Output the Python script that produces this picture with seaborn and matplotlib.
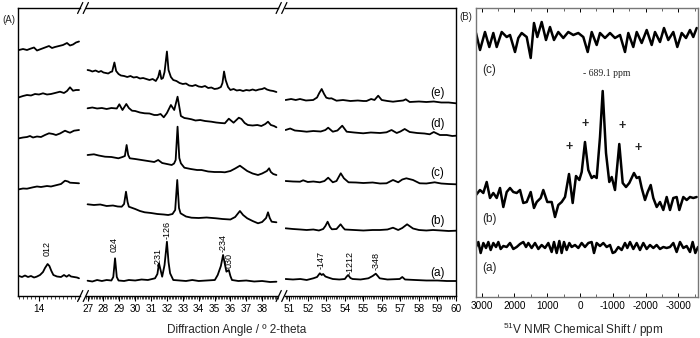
import numpy as np
import matplotlib
matplotlib.use("Agg")
import matplotlib.pyplot as plt
from matplotlib.lines import Line2D
from matplotlib.ticker import MultipleLocator
import seaborn as sns

# ---------------- Panel A data (XRD, intensity in arbitrary units) ----------------
trace_names = ["(a)", "(b)", "(c)", "(d)", "(e)"]

# segment 1 (13-16 deg)
s1_x_e = [13.0, 13.2, 13.4, 13.6, 13.75, 13.9, 14.1, 14.3, 14.5, 14.65, 14.8, 15.0, 15.2, 15.4, 15.55, 15.7, 15.85, 16.0]
s1_y_e = [50, 51, 50, 51.5, 52.5, 49.5, 51, 52.5, 54, 52, 53, 54, 55, 57, 54.5, 55.5, 57.5, 58.5]
s1_x_d = [13.0, 13.2, 13.4, 13.6, 13.8, 14.0, 14.2, 14.4, 14.6, 14.8, 15.05, 15.25, 15.4, 15.55, 15.7, 15.85, 16.0]
s1_y_d = [35.7, 37, 38, 37.5, 39, 38.5, 39.7, 38.5, 39, 40, 41.3, 40, 42, 45.7, 42.3, 43, 43]
s1_x_c = [13.0, 13.2, 13.4, 13.55, 13.7, 13.9, 14.1, 14.3, 14.5, 14.7, 14.85, 15.05, 15.3, 15.45, 15.55, 15.75, 16.0]
s1_y_c = [43.7, 44.5, 45, 46, 44.5, 45.5, 45, 47, 48.7, 48, 47, 48.5, 51.3, 50, 49.3, 51.3, 52]
s1_x_b = [13.0, 13.2, 13.4, 13.7, 13.9, 14.1, 14.4, 14.6, 14.9, 15.1, 15.3, 15.45, 15.55, 15.8, 16.0]
s1_y_b = [40.7, 41.5, 41.3, 42.7, 43.5, 43, 44, 43.5, 45, 46, 49.3, 48.5, 47.3, 47, 46.7]
s1_x_a = [13.0, 13.15, 13.3, 13.45, 13.6, 13.75, 13.88, 14.05, 14.2, 14.3, 14.43, 14.52, 14.62, 14.72,
          14.9, 15.1, 15.25, 15.38, 15.5, 15.6, 15.75, 15.9, 16.0]
s1_y_a = [8, 7, 8.5, 7, 8, 6.5, 7.3, 9, 12, 16, 20, 18, 13, 9, 7.5, 7, 9, 7.3, 9, 7.5, 7, 6.5, 5.7]

# segment 2 (27-39 deg)
s2_x_e = [27.0, 27.15, 27.3, 27.5, 27.7, 27.85, 28.0, 28.15, 28.3, 28.45,
          28.55, 28.69, 28.8, 28.95, 29.1, 29.3, 29.5, 29.7, 29.9, 30.1,
          30.3, 30.5, 30.7, 30.9, 31.1, 31.3, 31.45, 31.55, 31.65, 31.75,
          31.85, 32.0, 32.1, 32.25, 32.4, 32.6, 32.8, 33.0, 33.2, 33.4,
          33.6, 33.8, 34.0, 34.2, 34.4, 34.6, 34.8, 35.0, 35.2, 35.4,
          35.5, 35.6, 35.7, 35.85, 36.0, 36.2, 36.4, 36.6, 36.8, 37.0,
          37.2, 37.4, 37.6, 37.8, 38.0, 38.15, 38.3, 38.5, 38.7, 38.9]
s2_y_e = [30, 29.5, 28.5, 29.5, 28, 29, 27.5, 27, 26.5, 28,
          28.5, 37.5, 29, 26, 24.5, 24, 23, 24, 22.5, 23,
          21.5, 22, 21, 20, 21, 19, 23, 29.5, 21, 22,
          28, 48.5, 30, 23, 20, 19, 17, 16, 16.5, 14.5,
          14, 15, 13.5, 13, 14, 12, 12.5, 11, 11.5, 13,
          17, 28.5, 20, 13, 10, 11, 9.5, 10, 9, 10,
          9.5, 10.5, 9.5, 10.5, 11, 12, 10.5, 9.5, 9, 8]
s2_x_d = [27.0, 27.3, 27.6, 27.9, 28.2, 28.5, 28.84, 29.0, 29.2, 29.44,
          29.6, 29.8, 30.0, 30.3, 30.6, 30.9, 31.2, 31.4, 31.6, 31.8,
          32.0, 32.25, 32.46, 32.67, 32.88, 33.1, 33.3, 33.55, 33.8, 34.1,
          34.4, 34.8, 35.1, 35.4, 35.65, 35.9, 36.2, 36.53, 36.7, 36.9,
          37.1, 37.4, 37.7, 37.95, 38.2, 38.37, 38.55, 38.75, 38.9]
s2_y_d = [24.7, 25.5, 24.5, 25, 24, 25, 24.5, 28.7, 23, 29,
          25, 22.3, 22, 20.5, 19.7, 19.5, 18, 18, 19, 15.7,
          20, 28, 23, 36.3, 17, 15, 14.5, 13.7, 12.5, 13,
          12, 11.3, 10.5, 10, 9.7, 14.3, 10.3, 15.3, 14, 10,
          8, 7.5, 8, 7, 9, 11.3, 8, 7, 5.7]
s2_x_c = [27.0, 27.4, 27.7, 28.1, 28.5, 28.94, 29.2, 29.35, 29.46, 29.56,
          29.66, 30.0, 30.4, 30.8, 31.2, 31.45, 31.7, 32.0, 32.3, 32.45,
          32.55, 32.67, 32.78, 32.88, 33.1, 33.5, 33.9, 34.18, 34.6, 35.0,
          35.4, 35.65, 36.0, 36.3, 36.6, 36.8, 37.06, 37.4, 37.74, 38.0,
          38.3, 38.44, 38.55, 38.7, 38.9]
s2_y_c = [27, 27.7, 26.5, 25.3, 25, 23.7, 25, 26, 37, 27,
          23.7, 23, 22, 21, 20, 22, 19, 18, 17, 18.5,
          22, 55.3, 24, 18.7, 14.3, 13, 12, 12, 10.5, 10,
          10, 9.7, 11, 13.5, 16.3, 14, 11, 8.5, 7, 8.5,
          11, 13.7, 10, 8, 7]
s2_x_b = [27.0, 27.4, 27.8, 28.2, 28.6, 28.9, 29.15, 29.3, 29.42, 29.52,
          29.6, 30.0, 30.3, 30.6, 31.0, 31.4, 31.8, 32.08, 32.35, 32.52,
          32.65, 32.76, 32.86, 33.2, 33.55, 34.0, 34.5, 35.1, 35.5, 36.0,
          36.3, 36.6, 36.8, 37.06, 37.4, 37.74, 38.0, 38.25, 38.37, 38.48,
          38.6, 38.9]
s2_y_b = [25.7, 25, 25.5, 24, 24.5, 23.5, 23.3, 26, 38.3, 28,
          23.3, 21, 19, 17.7, 17, 16, 15.5, 15, 16, 20,
          50, 22, 16.7, 13.5, 12.3, 12, 12.5, 11.7, 11, 10.5,
          13, 19, 15, 11.7, 9, 6.7, 8, 12, 17.7, 12,
          8.3, 7.7]
s2_x_a = [27.0, 27.3, 27.6, 27.9, 28.2, 28.5, 28.62, 28.73, 28.84, 28.95,
          29.3, 29.6, 30.0, 30.4, 30.8, 31.25, 31.4, 31.5, 31.6, 31.7,
          31.85, 32.0, 32.1, 32.2, 32.4, 32.8, 33.2, 33.6, 34.0, 34.5,
          35.02, 35.2, 35.4, 35.54, 35.65, 35.75, 35.9, 36.0, 36.1, 36.5,
          37.0, 37.5, 38.0, 38.5, 38.9]
s2_y_a = [3.3, 2.5, 4, 3, 4, 3.5, 7, 25.7, 7, 3.5,
          3, 4, 3.5, 4.5, 4, 5.7, 10, 20.7, 14, 7.3,
          19, 42.3, 22, 10.7, 4, 3.5, 3, 4, 3, 3.5,
          4, 9, 18, 29, 20, 12.3, 14, 8, 4, 3,
          3.5, 2.5, 3, 2, 2.3]

# segment 3 (51-60 deg)
s3_x_e = [50.8, 51.1, 51.35, 51.58, 51.9, 52.29, 52.5, 52.62, 52.75, 52.88,
          53.0, 53.15, 53.28, 53.55, 53.9, 54.3, 54.7, 55.0, 55.17, 55.42,
          55.6, 55.8, 55.99, 56.3, 56.6, 56.9, 57.15, 57.29, 57.5, 58.0,
          58.4, 58.8, 59.2, 59.6, 60.0]
s3_y_e = [0, 1, 0, 1, -0.5, 0, 2.5, 7, 11, 6,
          2.3, 1.5, 1.7, -0.7, 0, -1, -0.5, -1, -1, 1,
          0, 4.3, 0, -1, -1.7, -1, -0.5, 0.7, -2, -1.5,
          -2, -1.5, -2.5, -2.5, -3.3]
s3_x_d = [50.8, 51.05, 51.3, 51.6, 51.94, 52.3, 52.7, 52.95, 53.1, 53.35,
          53.6, 53.86, 54.1, 54.5, 54.99, 55.4, 55.9, 56.25, 56.52, 56.8,
          57.0, 57.23, 57.5, 57.9, 58.3, 58.58, 58.8, 59.13, 59.5, 59.8, 60.0]
s3_y_d = [3, 4.5, 2.5, 2, 1.3, 2, 1.5, 3, 5.3, 1.3,
          2.5, 7.3, 1.3, 0.5, -0.3, 0.5, 0, 0.7, 3, 0,
          1.5, 4, 1, 0, -0.5, -1.3, 1, -2, -2, -3, -2.7]
s3_x_c = [50.8, 51.2, 51.58, 51.75, 52.0, 52.3, 52.65, 52.9, 53.1, 53.35,
          53.55, 53.78, 53.95, 54.2, 54.6, 55.0, 55.5, 55.9, 56.25, 56.6,
          56.88, 57.1, 57.32, 57.68, 58.04, 58.4, 58.85, 59.2, 59.6, 60.0]
s3_y_c = [1, 0.5, 0.3, 1.7, 0, 0.5, -0.3, 1, 4.3, -0.3,
          1, 8.7, 3.7, -0.3, -0.5, -1, -0.5, -1.5, -1.3, 2,
          -0.3, 2.5, 3.7, 2, -1.3, -1.5, -0.3, -1.5, -2, -2.3]
s3_x_b = [50.8, 51.2, 51.6, 51.94, 52.3, 52.6, 52.83, 52.95, 53.07, 53.2,
          53.3, 53.55, 53.77, 53.9, 54.0, 54.5, 55.0, 55.5, 55.89, 56.3,
          56.6, 56.88, 57.1, 57.36, 57.68, 58.0, 58.4, 58.76, 59.2, 59.6, 60.0]
s3_y_b = [1.7, 1, 0.5, 0, 0.5, -0.5, 1, 4, 8.3, 3,
          0.7, 1, 5.7, 2.5, 0.5, 0, -0.5, 0, 0, 0.5,
          2.3, 0, 2, 5.7, 1.5, 0, -0.5, 0, -0.5, -1, -0.7]
s3_x_a = [50.8, 51.2, 51.6, 51.94, 52.3, 52.5, 52.65, 52.75, 52.83, 52.95,
          53.1, 53.35, 53.7, 54.0, 54.1, 54.18, 54.3, 54.42, 54.85, 55.27,
          55.5, 55.67, 55.8, 55.88, 56.3, 56.96, 57.1, 57.25, 57.8, 58.4,
          59.0, 59.5, 60.0]
s3_y_a = [5, 4.5, 5, 4, 5.7, 7, 10.7, 9, 10, 7.5,
          6.5, 5, 4.5, 5, 7.5, 9, 6, 5, 4.5, 5.7,
          8, 10.3, 7.5, 5.7, 4.5, 5, 7, 4.5, 4, 3.5,
          3.5, 3, 3]

# peak indices (rotated labels): (text, position, height)
hkl_s1 = [("012", 14.43, 48)]
hkl_s2 = [("024", 28.7, 51), ("-231", 31.42, 39), ("-126", 32.0, 66), ("-234", 35.55, 53), ("030", 35.95, 36)]
hkl_s3 = [("-147", 52.7, 36), ("-1212", 54.27, 34), ("-348", 55.67, 35)]

s1_ticks = [14]
s2_ticks = list(range(27, 39))
s3_ticks = list(range(51, 61))

# ---------------- Panel B data (51V NMR) ----------------
nmr_x_c = [3171, 3049, 2897, 2765, 2643, 2540, 2387, 2235, 2134, 1982,
           1881, 1778, 1625, 1503, 1403, 1302, 1168, 1037, 915, 793,
           662, 509, 357, 204, 52, -101, -235, -357, -509, -610,
           -762, -915, -1067, -1220, -1372, -1473, -1625, -1729, -1881, -2034,
           -2186, -2287, -2439, -2561, -2692, -2845, -2967, -3101, -3232, -3354,
           -3454, -3558]
nmr_y_c = [12, -5, 13, -2, 12, -2, 13, 8, 10, -7,
           7, 12, 8, -13, 22, 8, 23, 5, 18, 5,
           13, 7, 13, 10, 12, 8, -7, 13, 0, 12,
           7, 12, 7, 10, -7, 12, -2, 13, 2, 15,
           0, 13, 3, 17, 5, 13, -2, 12, 7, 15,
           8, 17]
nmr_x_b = [3171, 3049, 2948, 2845, 2744, 2643, 2540, 2439, 2338, 2235,
           2134, 2034, 1930, 1829, 1729, 1625, 1503, 1403, 1320, 1198,
           1119, 997, 863, 762, 662, 558, 457, 335, 223, 122,
           21, -52, -152, -253, -357, -427, -509, -610, -692, -793,
           -893, -967, -1067, -1198, -1302, -1403, -1503, -1646, -1729, -1808,
           -1881, -1982, -2064, -2156, -2235, -2339, -2439, -2540, -2643, -2744,
           -2845, -2948, -3028, -3150, -3253, -3354, -3454, -3558]
nmr_y_b = [5, 10, 7, 18, 2, 7, 2, 12, -7, 8,
           12, 8, 7, 10, -3, -2, 8, -8, -2, 2,
           10, -2, -2, -17, -5, -2, 3, 26, -3, 24,
           20, 28, 58, 30, 22, 24, 22, 63, 109, 47,
           18, 23, 10, 56, 17, 13, 17, 27, 22, 23,
           12, 0, 8, 15, 2, -7, -2, -10, 3, -10,
           2, 3, -10, 3, 0, 3, 2, 3]
nmr_x_a = [3171, 3100, 3029, 2947, 2866, 2795, 2724, 2642, 2561, 2490,
           2419, 2337, 2236, 2134, 2033, 1931, 1829, 1728, 1646, 1575,
           1474, 1372, 1270, 1169, 1067, 966, 864, 793, 711, 630,
           559, 488, 407, 325, 254, 152, 51, -51, -152, -254,
           -356, -427, -508, -610, -711, -813, -915, -996, -1067, -1169,
           -1270, -1372, -1443, -1525, -1626, -1728, -1829, -1931, -2033, -2134,
           -2236, -2337, -2439, -2541, -2642, -2744, -2846, -2947, -3049, -3151,
           -3252, -3354, -3435, -3516, -3598]
nmr_y_a = [0, 5, -6, 4, -1, 5, -3, 4, 0, 5,
           -2, 1, 0, 4, -2, 0, 3, 5, 0, 4,
           -1, 4, -2, 2, -1, 4, -5, 5, -6, 6,
           -6, 5, -3, 4, 0, 2, -1, 4, 0, 4,
           5, -6, 4, 1, 4, 0, 2, -6, -5, 0,
           -3, 4, -1, 5, -2, 4, -3, 4, -2, 2,
           -1, 2, -2, 0, -1, 0, 4, -5, 5, -1,
           1, -5, 5, -6, 0]
nmr_ticks = [3000, 2000, 1000, 0, -1000, -2000, -3000]
main_peak_label = "- 689.1 ppm"
sideband_pos = [(-152, 173), (-1281, 171), (335, 150), (-1768, 149)]

# ---------------- styling / layout ----------------
sns.set_theme(style="ticks")
plt.rcParams['font.family'] = ['Liberation Sans', 'DejaVu Sans']
plt.rcParams['mathtext.fontset'] = 'custom'
plt.rcParams['mathtext.rm'] = 'Liberation Sans'
plt.rcParams['mathtext.it'] = 'Liberation Sans:italic'
plt.rcParams['axes.unicode_minus'] = False

W, H = 700, 338
fig = plt.figure(figsize=(7, 3.38), dpi=100)
fig.patch.set_facecolor('white')


def add_ax(x0, x1, y0, y1):
    return fig.add_axes([x0 / W, 1 - y1 / H, (x1 - x0) / W, (y1 - y0) / H])


def trace(ax, x, y, off, lw=1.3):
    sns.lineplot(x=np.asarray(x, float), y=off + np.asarray(y, float), ax=ax,
                 color='black', linewidth=lw, estimator=None, sort=False, legend=False)


ax1 = add_ax(18, 80, 8, 296)
ax2 = add_ax(86, 278, 8, 296)
ax3 = add_ax(285, 456, 8, 296)
axB = add_ax(476, 698, 8, 297)

offsA = {"e": 196, "d": 163, "c": 114, "b": 66, "a": 12}
labelA_y = {"e": 203, "d": 172, "c": 123, "b": 75, "a": 23}
segdata = [
    (ax1, {"e": (s1_x_e, s1_y_e), "d": (s1_x_d, s1_y_d), "c": (s1_x_c, s1_y_c), "b": (s1_x_b, s1_y_b), "a": (s1_x_a, s1_y_a)}),
    (ax2, {"e": (s2_x_e, s2_y_e), "d": (s2_x_d, s2_y_d), "c": (s2_x_c, s2_y_c), "b": (s2_x_b, s2_y_b), "a": (s2_x_a, s2_y_a)}),
    (ax3, {"e": (s3_x_e, s3_y_e), "d": (s3_x_d, s3_y_d), "c": (s3_x_c, s3_y_c), "b": (s3_x_b, s3_y_b), "a": (s3_x_a, s3_y_a)}),
]
for ax, d in segdata:
    for k, (xx, yy) in d.items():
        trace(ax, xx, yy, offsA[k], lw=1.3)

ax1.set_xlim(12.95, 16.05)
ax2.set_xlim(26.9, 39.0)
ax3.set_xlim(50.77, 60.0)
ax1.set_xticks(s1_ticks)
ax1.xaxis.set_minor_locator(MultipleLocator(0.2))
ax2.set_xticks(s2_ticks)
ax2.xaxis.set_minor_locator(MultipleLocator(0.1))
ax3.set_xticks(s3_ticks)
ax3.xaxis.set_minor_locator(MultipleLocator(0.1))

for ax in (ax1, ax2, ax3):
    ax.set_ylim(0, 288)
    ax.set_yticks([])
    ax.set_xlabel('')
    ax.set_ylabel('')
    ax.set_facecolor('none')
    for s in ax.spines.values():
        s.set_color('black')
        s.set_linewidth(1.0)
    ax.tick_params(axis='x', which='major', direction='out', length=3.5, width=0.8,
                   pad=2.5, labelsize=7.2, bottom=True, top=False, colors='black')
    ax.tick_params(axis='x', which='minor', direction='out', length=2, width=0.5,
                   bottom=True, top=False, colors='black')
    ax.tick_params(axis='y', left=False, right=False)
ax1.spines['right'].set_visible(False)
ax2.spines['left'].set_visible(False)
ax2.spines['right'].set_visible(False)
ax3.spines['left'].set_visible(False)

# hkl labels
for ax, lst in ((ax1, hkl_s1), (ax2, hkl_s2), (ax3, hkl_s3)):
    for t, xx, yy in lst:
        ax.text(xx, yy, t, rotation=90, ha='center', va='center', fontsize=6.5, color='black')

# trace labels (a)-(e)
for k in ["a", "b", "c", "d", "e"]:
    ax3.text(59.0, labelA_y[k], f"({k})", ha='center', va='center', fontsize=8.5, color='black')

# break marks
def slash_pair(xc, yc):
    for dx in (-2.8, 2.8):
        x0, x1 = xc + dx - 2.6, xc + dx + 2.6
        y0, y1 = yc + 5.5, yc - 5.5
        fig.add_artist(Line2D([x0 / W, x1 / W], [1 - y0 / H, 1 - y1 / H],
                              transform=fig.transFigure, color='black', lw=0.9))

for xc in (83, 281.5):
    slash_pair(xc, 8)
    slash_pair(xc, 296)

# ---------------- Panel B ----------------
offsB = {"c": 252, "b": 97, "a": 50}
trace(axB, nmr_x_c, nmr_y_c, offsB["c"], lw=1.8)
trace(axB, nmr_x_b, nmr_y_b, offsB["b"], lw=1.8)
trace(axB, nmr_x_a, nmr_y_a, offsB["a"], lw=1.8)
axB.set_xlim(3171, -3598)
axB.set_ylim(0, 289)
axB.set_xticks(nmr_ticks)
axB.xaxis.set_minor_locator(MultipleLocator(500))
axB.set_yticks([])
axB.set_xlabel('')
axB.set_ylabel('')
axB.set_facecolor('none')
for s in axB.spines.values():
    s.set_color('#777777')
    s.set_linewidth(1.0)
axB.tick_params(axis='x', which='major', direction='in', length=3, width=0.7, pad=3,
                labelsize=7.2, bottom=True, top=True, colors='black')
axB.tick_params(axis='x', which='minor', direction='in', length=2, width=0.5,
                bottom=True, top=True)

axB.text(2988, 227, "(c)", ha='left', va='center', fontsize=8.5)
axB.text(2988, 78, "(b)", ha='left', va='center', fontsize=8.5)
axB.text(2988, 29, "(a)", ha='left', va='center', fontsize=8.5)
axB.text(-823, 223, main_peak_label, ha='center', va='center', fontsize=7,
         family=['Liberation Serif', 'DejaVu Serif'])
for px_, py_ in sideband_pos:
    axB.text(px_, py_, "+", ha='center', va='center', fontsize=9, fontweight='bold')

# panel letters and axis titles
fig.text(2 / W, 1 - 20 / H, "(A)", ha='left', va='center', fontsize=7)
fig.text(459 / W, 1 - 17 / H, "(B)", ha='left', va='center', fontsize=7)
fig.text(237 / W, 1 - 330 / H, "Diffraction Angle / º 2-theta", ha='center', va='center', fontsize=8.5)
fig.text(583 / W, 1 - 330 / H, r"$^{51}$V NMR Chemical Shift / ppm", ha='center', va='center', fontsize=8.5)

fig.savefig("out.png", dpi=100)
